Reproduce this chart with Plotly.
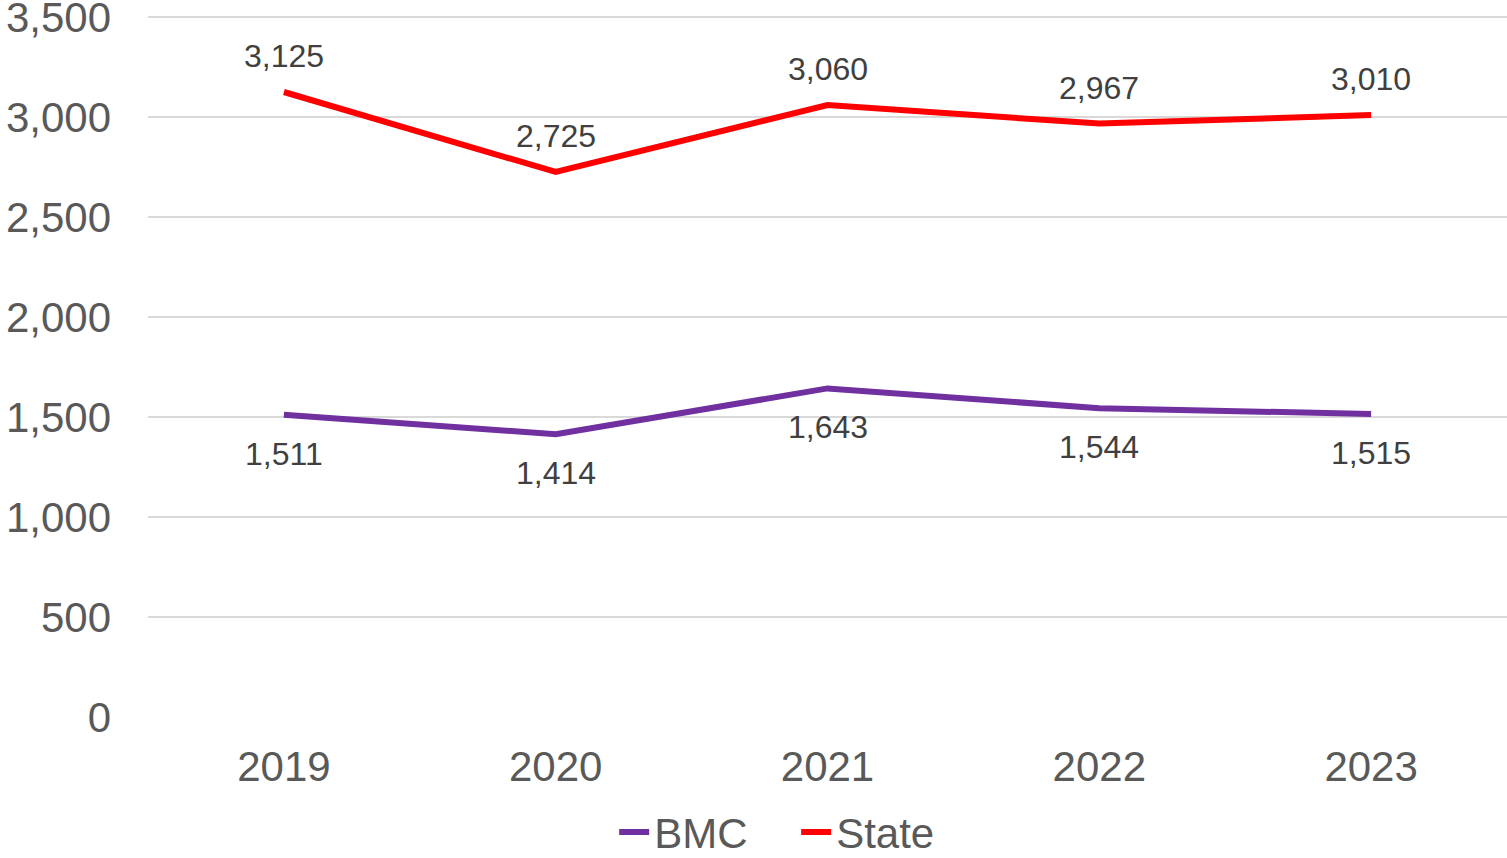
import plotly.graph_objects as go

years = ["2019", "2020", "2021", "2022", "2023"]
bmc = [1511, 1414, 1643, 1544, 1515]
state = [3125, 2725, 3060, 2967, 3010]
y_ticks = [0, 500, 1000, 1500, 2000, 2500, 3000, 3500]

FONT = "Liberation Sans, Arial, sans-serif"

fig = go.Figure()
fig.add_trace(go.Scatter(x=years, y=bmc, mode="lines", name="BMC",
                         line=dict(color="#7030A0", width=6)))
fig.add_trace(go.Scatter(x=years, y=state, mode="lines", name="State",
                         line=dict(color="#FF0000", width=6)))

# category axis: annotation x given as the category index of each year
for i, v in enumerate(state):
    fig.add_annotation(x=i, y=v, xref="x", yref="y", text=f"{v:,}", showarrow=False,
                       yshift=36, font=dict(family=FONT, size=32, color="#404040"))
for i, v in enumerate(bmc):
    fig.add_annotation(x=i, y=v, xref="x", yref="y", text=f"{v:,}", showarrow=False,
                       yshift=-39, font=dict(family=FONT, size=32, color="#404040"))

fig.update_layout(
    width=1507, height=858,
    margin=dict(l=148, r=0, t=11, b=141, autoexpand=False),
    paper_bgcolor="white", plot_bgcolor="white",
    font=dict(family=FONT, color="#595959", size=42),
    showlegend=True,
    legend=dict(orientation="h", x=0.343, xanchor="left", y=-0.163, yanchor="middle",
                entrywidth=137,
                font=dict(size=42, color="#595959")),
)
fig.update_xaxes(type="category", categoryorder="array", categoryarray=years,
                 range=[-0.5, 4.5], showgrid=False, showline=False, zeroline=False,
                 ticklabelstandoff=21,
                 tickfont=dict(size=42, color="#595959"))
fig.update_yaxes(range=[0, 3530], tickvals=y_ticks, tickformat=",",
                 showgrid=True, gridcolor="#D9D9D9", gridwidth=2,
                 zeroline=False, showline=False,
                 ticklabelstandoff=36, ticklabeloverflow="allow",
                 tickfont=dict(size=42, color="#595959"))

fig.write_html("out.html", config={"displayModeBar": False},
               post_script="document.body.style.margin='0';")
